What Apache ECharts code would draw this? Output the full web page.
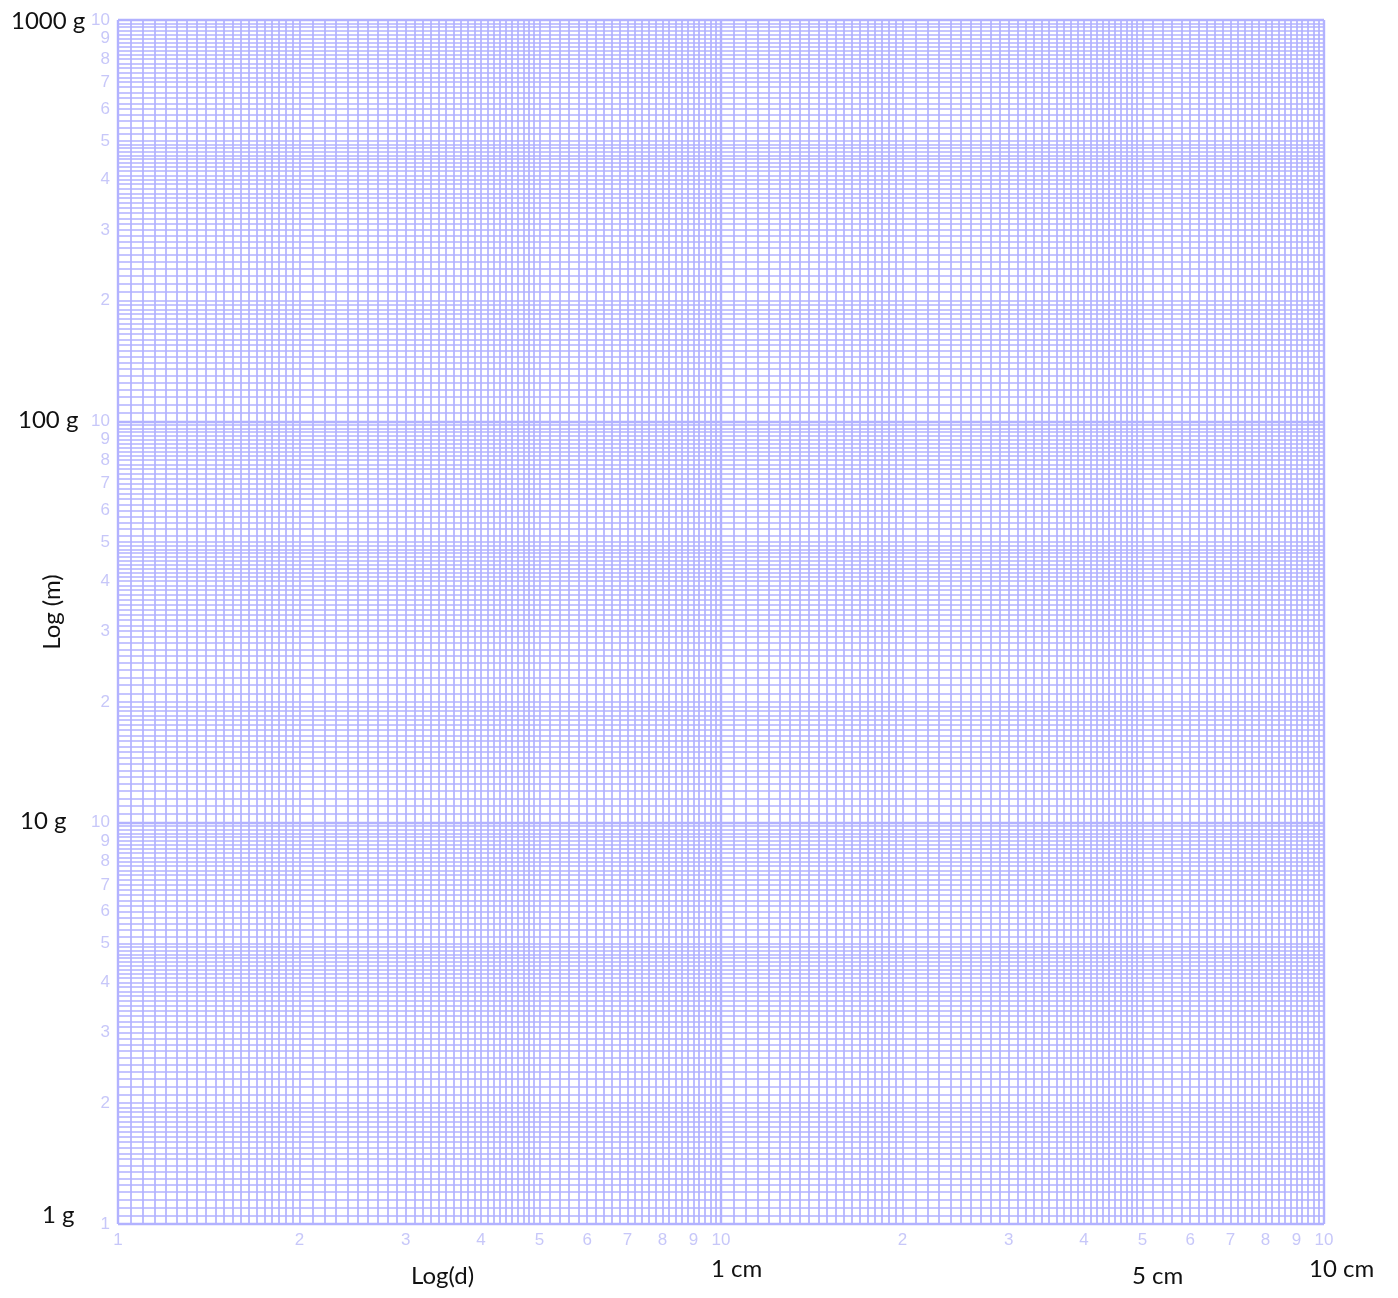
<!DOCTYPE html>
<html><head><meta charset="utf-8">
<script src="https://cdn.jsdelivr.net/npm/echarts@6/dist/echarts.min.js"></script>
<style>html,body{margin:0;padding:0;background:#fff}#c{width:1398px;height:1298px}</style>
</head><body><div id="c"></div>
<script>
// ---- data ----
const xRange = [1, 100];          // diameter axis, 2 decades
const yRange = [1, 1000];         // mass axis, 3 decades
const xDecades = [1, 10];
const yDecades = [1, 10, 100];
// ruling of each decade: [from mantissa, to mantissa, step]
const rulings = [[1, 2, 0.05], [2, 5, 0.1], [5, 10, 0.2]];
const mantissaTicks = [2, 3, 4, 5, 6, 7, 8, 9, 10];
const mantissaLabels = ['2', '3', '4', '5', '6', '7', '8', '9', '10'];
const yUnitLabels = ['1000 g', '100 g', '10 g', '1 g'];
const xUnitLabels = ['1 cm', '5 cm', '10 cm'];
const xTitle = 'Log(d)';
const yTitle = 'Log (m)';

// ---- build ----
function ruled(decades) {
  const out = [];
  decades.forEach(d => {
    rulings.forEach(([a, b, s]) => {
      const n = Math.round((b - a) / s);
      for (let i = 0; i < n; i++) {
        const m = Math.round((a + i * s) * 1000) / 1000;
        out.push({ v: d * m, major: m === 1 });
      }
    });
  });
  return out;
}
const xLines = ruled(xDecades).concat([{ v: xRange[1], major: true }]);
const yLines = ruled(yDecades).concat([{ v: yRange[1], major: true }]);

const gridColor = '#b2b2ff';
function ml(key, arr) {
  return arr.map(o => ({
    [key]: o.v,
    lineStyle: { color: gridColor, width: o.major ? 2.4 : 1.7, type: 'solid' }
  }));
}

const yTickData = [{ value: [xRange[0], 1], name: '1' }];
yDecades.forEach(d => mantissaTicks.forEach((m, i) => yTickData.push({ value: [xRange[0], d * m], name: mantissaLabels[i] })));
const xTickData = [{ value: [1, yRange[0]], name: '1' }];
xDecades.forEach(d => mantissaTicks.forEach((m, i) => xTickData.push({ value: [d * m, yRange[0]], name: mantissaLabels[i] })));

const tickLabelStyle = { color: '#b9b9f8', fontFamily: 'Liberation Sans', fontSize: 17 };

const chart = echarts.init(document.getElementById('c'), null, { renderer: 'canvas' });
const blackText = { fill: '#111', font: '24px Lato', textVerticalAlign: 'middle' };
chart.setOption({
  animation: false,
  backgroundColor: '#fff',
  grid: { left: 118, right: 74, top: 20, bottom: 74, containLabel: false },
  xAxis: {
    type: 'log', logBase: 10, min: xRange[0], max: xRange[1],
    axisLine: { show: false }, axisTick: { show: false }, axisLabel: { show: false }, splitLine: { show: false }
  },
  yAxis: {
    type: 'log', logBase: 10, min: yRange[0], max: yRange[1],
    axisLine: { show: false }, axisTick: { show: false }, axisLabel: { show: false }, splitLine: { show: false }
  },
  series: [
    {
      type: 'line', data: [], silent: true,
      markLine: { silent: true, symbol: 'none', label: { show: false }, animation: false,
        data: ml('xAxis', xLines).concat(ml('yAxis', yLines)) }
    },
    {
      type: 'scatter', symbolSize: 0, silent: true, clip: false, data: yTickData,
      label: { show: true, position: 'left', distance: 8, formatter: p => p.name, ...tickLabelStyle }
    },
    {
      type: 'scatter', symbolSize: 0, silent: true, clip: false, data: xTickData,
      label: { show: true, position: 'bottom', distance: 8, formatter: p => p.name, ...tickLabelStyle }
    }
  ],
  graphic: [
    { type: 'text', left: 11, top: 9, style: { text: yUnitLabels[0], ...blackText } },
    { type: 'text', left: 18, top: 408, style: { text: yUnitLabels[1], ...blackText } },
    { type: 'text', left: 20, top: 809, style: { text: yUnitLabels[2], ...blackText } },
    { type: 'text', left: 42, top: 1203, style: { text: yUnitLabels[3], ...blackText } },
    { type: 'text', left: 711, top: 1257, style: { text: xUnitLabels[0], ...blackText } },
    { type: 'text', left: 1132, top: 1264, style: { text: xUnitLabels[1], ...blackText } },
    { type: 'text', left: 1309, top: 1257, style: { text: xUnitLabels[2], ...blackText } },
    { type: 'text', left: 411, top: 1264, style: { text: xTitle, ...blackText } },
    { type: 'text', x: 52, y: 612, rotation: Math.PI / 2, style: { text: yTitle, fill: '#111', font: '24px Lato', align: 'center', verticalAlign: 'middle' } }
  ]
});
</script></body></html>
